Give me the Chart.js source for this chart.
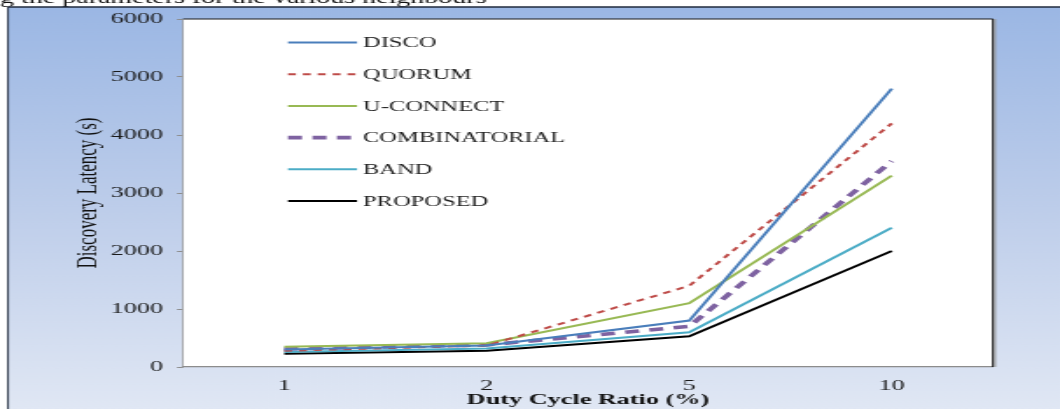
<!DOCTYPE html>
<html><head><meta charset="utf-8">
<script src="https://cdn.jsdelivr.net/npm/chart.js@4/dist/chart.umd.min.js"></script>
<style>
html,body{margin:0;padding:0;background:#fff;overflow:hidden;}
#wrap{width:606px;height:409px;transform:scaleX(1.749175);transform-origin:0 0;}
canvas{display:block;}
</style></head><body>
<div id="wrap"><canvas id="c" width="606" height="409"></canvas></div>
<script>
const SX = 1060 / 606;
const categories = ['1', '2', '5', '10'];
const seriesNames = ['DISCO', 'QUORUM', 'U-CONNECT', 'COMBINATORIAL', 'BAND', 'PROPOSED'];
const disco = [300, 370, 800, 4800];
const quorum = [280, 370, 1400, 4200];
const uconnect = [350, 410, 1100, 3300];
const combinatorial = [310, 380, 700, 3550];
const band = [260, 320, 600, 2400];
const proposed = [230, 280, 530, 2000];
const yTicks = [0, 1000, 2000, 3000, 4000, 5000, 6000];
const xTitle = 'Duty Cycle Ratio (%)';
const yTitle = 'Discovery Latency (s)';
const caption = 'g the parameters for the various neighbours';

const SERIF = '"Liberation Serif", "Times New Roman", serif';

const bgPlugin = {
  id: 'bg',
  beforeDraw(chart) {
    const ctx = chart.ctx, W = chart.width, H = chart.height, a = chart.chartArea;
    ctx.save();
    ctx.fillStyle = '#ffffff';
    ctx.fillRect(0, 0, W, H);
    ctx.fillStyle = '#111';
    ctx.font = '16px ' + SERIF;
    ctx.textBaseline = 'alphabetic';
    ctx.textAlign = 'left';
    ctx.fillText(caption, 0, 3);
    const g = ctx.createLinearGradient(0, 7, 0, H);
    g.addColorStop(0, '#9bb7e4');
    g.addColorStop(0.5, '#bdcdea');
    g.addColorStop(1, '#e0e7f4');
    ctx.fillStyle = g;
    ctx.fillRect(8 / SX, 7, W, H);
    ctx.strokeStyle = '#1f2a3c';
    ctx.lineWidth = 1.6;
    ctx.beginPath();
    ctx.moveTo(8 / SX, 7); ctx.lineTo(W, 7);
    ctx.stroke();
    ctx.lineWidth = 1.6 / SX;
    ctx.beginPath();
    ctx.moveTo(8 / SX, 7); ctx.lineTo(8 / SX, H);
    ctx.stroke();
    ctx.fillStyle = '#ffffff';
    ctx.fillRect(a.left, a.top, a.right - a.left, a.bottom - a.top);
    ctx.restore();
  },
  afterDraw(chart) {
    const ctx = chart.ctx, a = chart.chartArea;
    ctx.save();
    ctx.strokeStyle = '#1a1a1a';
    ctx.lineWidth = 1.2;
    ctx.beginPath();
    ctx.moveTo(a.left, a.top); ctx.lineTo(a.right, a.top);
    ctx.stroke();
    ctx.lineWidth = 2 / SX;
    ctx.beginPath();
    ctx.moveTo(a.right, a.top); ctx.lineTo(a.right, a.bottom);
    ctx.stroke();
    ctx.strokeStyle = '#9a9a9a';
    ctx.lineWidth = 2 / SX;
    ctx.beginPath();
    ctx.moveTo(a.right + 2 / SX, a.top); ctx.lineTo(a.right + 2 / SX, a.bottom);
    ctx.stroke();
    // legend
    chart.data.datasets.forEach((ds, i) => {
      const y = 42.5 + i * 31.7;
      ctx.strokeStyle = ds.borderColor;
      ctx.lineWidth = ds.borderWidth;
      ctx.setLineDash(ds.borderDash || []);
      ctx.beginPath();
      ctx.moveTo(288 / SX, y); ctx.lineTo(357 / SX, y);
      ctx.stroke();
      ctx.setLineDash([]);
      ctx.fillStyle = '#222';
      ctx.font = '14px ' + SERIF;
      ctx.textBaseline = 'middle';
      ctx.textAlign = 'left';
      ctx.fillText(ds.label, 363 / SX, y + 1);
    });
    ctx.restore();
  }
};

const seriesValues = [disco, quorum, uconnect, combinatorial, band, proposed];
const colors = ['#4a7ebb', '#be4b48', '#98b954', '#7e62a1', '#4bacc6', '#000000'];
const widths = [2, 2, 2, 3.6, 2, 2];
const dashes = [[], [4.5, 4], [], [8, 6], [], []];

new Chart(document.getElementById('c'), {
  type: 'line',
  data: {
    labels: categories,
    datasets: seriesNames.map((n, i) => ({
      label: n,
      data: seriesValues[i],
      borderColor: colors[i],
      backgroundColor: colors[i],
      borderWidth: widths[i],
      borderDash: dashes[i],
      pointRadius: 0,
      tension: 0,
      fill: false
    }))
  },
  options: {
    responsive: false,
    animation: false,
    devicePixelRatio: 1,
    layout: { padding: { left: 0, top: 19, right: 606 - 993 / SX, bottom: 0 } },
    plugins: { legend: { display: false }, tooltip: { enabled: false } },
    scales: {
      x: {
        type: 'category',
        offset: true,
        grid: { display: false, drawTicks: false },
        border: { display: true, color: '#8c8c8c', width: 1.2 },
        ticks: { color: '#1a1a1a', font: { family: SERIF, size: 15 }, padding: 10, maxRotation: 0 },
        title: { display: true, text: xTitle, color: '#111', font: { family: SERIF, size: 15, weight: 'bold', lineHeight: 1.2 }, padding: { top: 0, bottom: 0 } },
        afterFit(s) { s.height = 42; }
      },
      y: {
        min: 0, max: 6000,
        afterBuildTicks(s) { s.ticks = yTicks.map(v => ({ value: v })); },
        grid: { drawOnChartArea: false, drawTicks: true, tickLength: 6 / SX, color: '#8c8c8c' },
        border: { display: true, color: '#8c8c8c', width: 1.2 / SX },
        ticks: { color: '#1a1a1a', font: { family: SERIF, size: 15 }, padding: 14 / SX, callback: v => String(v) },
        title: { display: true, text: yTitle, color: '#111', font: { family: SERIF, size: 17, lineHeight: 1.2 }, padding: { top: 88 / SX - 10.2, bottom: 0 } },
        afterFit(s) { s.width = 183 / SX; }
      }
    }
  },
  plugins: [bgPlugin]
});
</script>
</body></html>
